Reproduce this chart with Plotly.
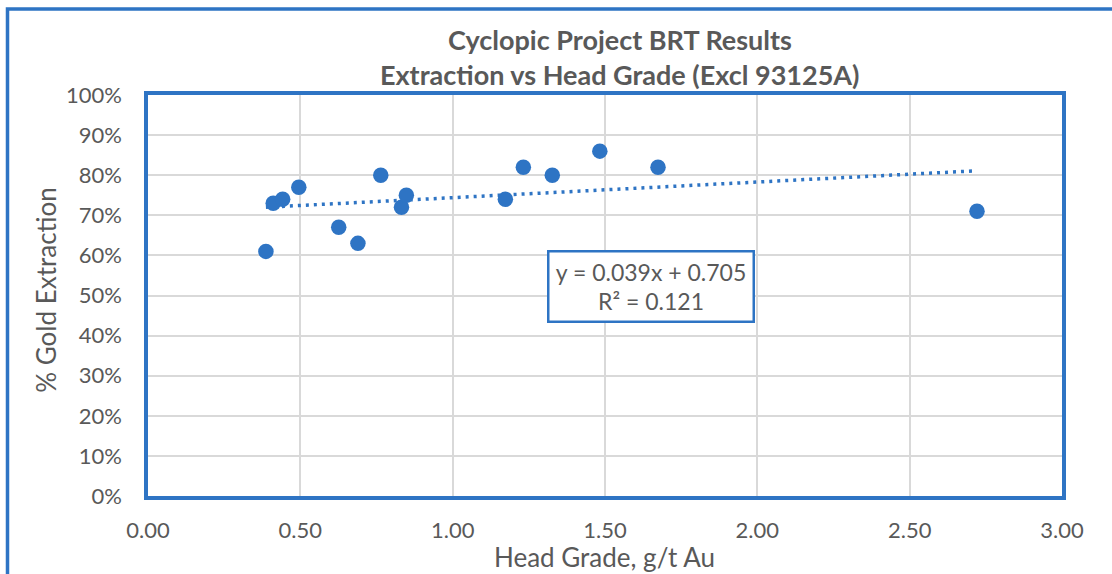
import plotly.graph_objects as go

# Data
head_grade = [0.387, 0.411, 0.442, 0.495, 0.626, 0.689, 0.764, 0.832, 0.848,
              1.173, 1.232, 1.327, 1.483, 1.674, 2.721]
extraction = [0.61, 0.73, 0.74, 0.77, 0.67, 0.63, 0.80, 0.72, 0.75,
              0.74, 0.82, 0.80, 0.86, 0.82, 0.71]
trend_slope = 0.039
trend_intercept = 0.705
trend_r2 = 0.121

title_lines = ["Cyclopic Project BRT Results", "Extraction vs Head Grade (Excl 93125A)"]
x_title = "Head Grade, g/t Au"
y_title = "% Gold Extraction"

BLUE = "#2E74C4"
TEXT = "#595959"
FONT = "Lato"

# plot area pixel geometry
L, R, T, B = 148, 1062, 95, 496.5
W, H = R - L, B - T


def px_x(p):
    return (p - L) / W


def px_y(p):
    return (B - p) / H


trend_x = [min(head_grade), max(head_grade)]
trend_y = [trend_slope * v + trend_intercept for v in trend_x]

fig = go.Figure()
fig.add_trace(go.Scatter(
    x=trend_x, y=trend_y, mode="lines",
    line=dict(color=BLUE, width=3.5, dash="3px,5px"),
    hoverinfo="skip", showlegend=False))
fig.add_trace(go.Scatter(
    x=head_grade, y=extraction, mode="markers",
    marker=dict(color=BLUE, size=15.5, line=dict(width=0)),
    showlegend=False))

annotations = [
    dict(text="<b>%s</b>" % title_lines[0], x=px_x(620), y=px_y(39),
         font=dict(size=27, color=TEXT, family=FONT)),
    dict(text="<b>%s</b>" % title_lines[1], x=px_x(620), y=px_y(74),
         font=dict(size=27, color=TEXT, family=FONT)),
    dict(text=y_title, x=px_x(46), y=px_y(290), textangle=-90,
         font=dict(size=26, color=TEXT, family=FONT)),
    dict(text=x_title, x=px_x(604.5), y=px_y(558),
         font=dict(size=26, color=TEXT, family=FONT)),
    dict(text="y = %.3fx + %.3f<br>R² = %.3f" % (trend_slope, trend_intercept, trend_r2),
         x=px_x(650.5), y=px_y(286.7), width=199, height=64,
         bordercolor=BLUE, borderwidth=2.5, borderpad=2, bgcolor="white",
         font=dict(size=23, color=TEXT, family=FONT)),
]
for a in annotations:
    a.update(xref="paper", yref="paper", showarrow=False,
             xanchor="center", yanchor="middle")

fig.update_layout(
    width=1112, height=574,
    margin=dict(l=L, r=1112 - R, t=T, b=574 - B),
    paper_bgcolor="white", plot_bgcolor="white",
    font=dict(family=FONT, color=TEXT),
    annotations=annotations,
    shapes=[dict(type="rect", xref="paper", yref="paper",
                 x0=px_x(7.5), x1=px_x(1150), y0=px_y(9), y1=px_y(620),
                 line=dict(color=BLUE, width=3.5), layer="below")],
    xaxis=dict(range=[0, 3], dtick=0.5, tick0=0, tickformat=".2f",
               showgrid=True, gridcolor="#D9D9D9", gridwidth=2,
               showline=True, linecolor=BLUE, linewidth=3.5, mirror=True,
               zeroline=False, ticks="outside", ticklen=12,
               tickcolor="rgba(0,0,0,0)",
               tickfont=dict(size=22, color=TEXT, family=FONT)),
    yaxis=dict(range=[0, 1], dtick=0.1, tick0=0, tickformat=".0%",
               showgrid=True, gridcolor="#D9D9D9", gridwidth=2,
               showline=True, linecolor=BLUE, linewidth=3.5, mirror=True,
               zeroline=False, ticks="outside", ticklen=18,
               tickcolor="rgba(0,0,0,0)",
               tickfont=dict(size=22, color=TEXT, family=FONT)),
)

fig.write_html("out.html",
               config={"displayModeBar": False},
               post_script="document.body.style.margin='0';"
                           "document.body.style.overflow='hidden';")
